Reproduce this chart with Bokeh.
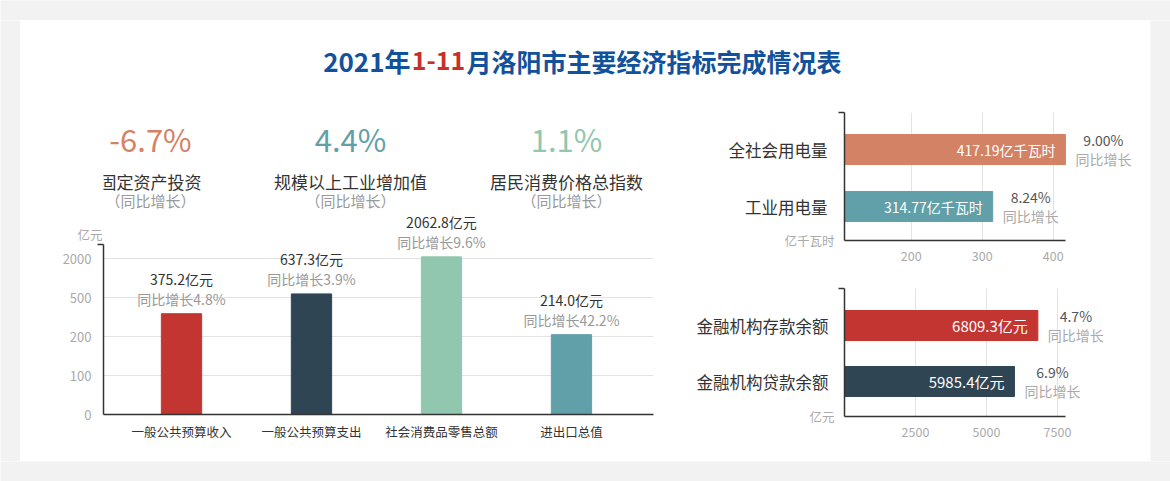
import numpy as np
from bokeh.plotting import figure
from bokeh.layouts import column, row
from bokeh.models import Range1d, FixedTicker, LinearAxis
from bokeh.core.properties import value
from bokeh.embed import file_html
from bokeh.resources import INLINE

FONT = "Noto Sans CJK SC"

# ---------------- data ----------------
title_parts = ["2021年", "1-11", "月洛阳市主要经济指标完成情况表"]

kpi_values = ["-6.7%", "4.4%", "1.1%"]
kpi_names = ["固定资产投资", "规模以上工业增加值", "居民消费价格总指数"]
kpi_sub = "（同比增长）"
kpi_colors = ["#d48265", "#61a0a8", "#91c7ae"]

bar_categories = ["一般公共预算收入", "一般公共预算支出", "社会消费品零售总额", "进出口总值"]
bar_values = [375.2, 637.3, 2062.8, 214.0]
bar_growth = [4.8, 3.9, 9.6, 42.2]
bar_colors = ["#c23531", "#2f4554", "#91c7ae", "#61a0a8"]
bar_unit = "亿元"
y_tick_values = [0, 100, 200, 500, 2000]

elec_categories = ["工业用电量", "全社会用电量"]          # bottom -> top
elec_values = [314.77, 417.19]
elec_growth = ["8.24%", "9.00%"]
elec_colors = ["#61a0a8", "#d48265"]
elec_unit = "亿千瓦时"
elec_ticks = [200, 300, 400]

fin_categories = ["金融机构贷款余额", "金融机构存款余额"]  # bottom -> top
fin_values = [5985.4, 6809.3]
fin_growth = ["6.9%", "4.7%"]
fin_colors = ["#2f4554", "#c23531"]
fin_unit = "亿元"
fin_ticks = [2500, 5000, 7500]

GRAY_BG = "#f2f2f2"
AXIS = "#333333"
GRID = "#e3e3e3"
LIGHT = "#aaaaaa"
DARK = "#333333"


def seg_scale(v, b=y_tick_values):
    """piece-wise linear value axis (equal spacing between the tick values)"""
    for i in range(len(b) - 1):
        if v <= b[i + 1]:
            return i + (v - b[i]) / (b[i + 1] - b[i])
    return len(b) - 2 + (v - b[-2]) / (b[-1] - b[-2])


def blank(w, h, xr, yr, bg="white", **kw):
    p = figure(width=w, height=h, toolbar_location=None, output_backend="svg",
               x_axis_location=None, y_axis_location=None,
               x_range=xr, y_range=yr, **kw)
    p.grid.visible = False
    p.outline_line_color = None
    p.background_fill_color = bg
    p.border_fill_color = bg
    return p


def txt(p, x, y, t, size, color, align="center", bold=False, **kw):
    p.text(x=x, y=y, text=t, text_align=align, text_baseline="middle",
           text_font=value(FONT), text_font_size=size, text_color=color,
           text_font_style="bold" if bold else "normal", **kw)


def style_axis(ax, size, color, standoff, line=True):
    ax.major_tick_line_color = None
    ax.major_tick_out = 0
    ax.major_tick_in = 0
    ax.axis_line_color = AXIS if line else None
    ax.axis_line_width = 1.5
    ax.major_label_standoff = standoff
    ax.major_label_text_font = FONT
    ax.major_label_text_font_size = size
    ax.major_label_text_color = color


def outer_label_axis(p, ticks, labels, size, color, standoff):
    """a second, line-less left axis used only for its labels"""
    ax = LinearAxis(ticker=FixedTicker(ticks=ticks),
                    major_label_overrides=dict(zip(ticks, labels)),
                    minor_tick_line_color=None, minor_tick_out=0, minor_tick_in=0)
    style_axis(ax, size, color, standoff, line=False)
    p.add_layout(ax, "left")


# ---------------- title ----------------
tfig = blank(1130, 85, Range1d(0, 1130), Range1d(85, 0), min_border=0)
txt(tfig, [390], [40], [title_parts[0]], "26px", "#12519b", align="right", bold=True)
txt(tfig, [418], [40], [title_parts[1]], "25px", "#c8312b", align="center", bold=True)
txt(tfig, [446], [40], [title_parts[2]], "25px", "#12519b", align="left", bold=True)

# ---------------- KPI (x in page pixels, frame aligned with the bar chart) ----------------
kfig = blank(650, 105, Range1d(103, 653), Range1d(105, 0),
             min_border_left=83, min_border_right=17, min_border_top=0, min_border_bottom=0)
kx = [150, 350, 566]
for i in range(3):
    txt(kfig, [kx[i]], [33], [kpi_values[i]], "31px", kpi_colors[i])
    txt(kfig, [kx[i]], [76], [kpi_names[i]], "17px", DARK)
    txt(kfig, [kx[i]], [95], [kpi_sub], "15px", "#999999")

# ---------------- left bar chart ----------------
xs = list(range(len(bar_categories)))
tops = [seg_scale(v) for v in bar_values]
ytop = 4.359
bfig = figure(width=650, height=251, toolbar_location=None, output_backend="svg",
              x_range=Range1d(-0.6, 3.631), y_range=Range1d(0, 5.231),
              min_border_left=83, min_border_right=17, min_border_top=0, min_border_bottom=47)
bfig.outline_line_color = None
bfig.vbar(x=xs, top=tops, width=0.31, color=bar_colors)
txt(bfig, xs, tops, [f"{v:.1f}{bar_unit}" for v in bar_values], "14px", DARK, y_offset=-35)
txt(bfig, xs, tops, [f"同比增长{g}%" for g in bar_growth], "14px", "#999999", y_offset=-15)

bfig.xgrid.visible = False
bfig.xaxis.ticker = FixedTicker(ticks=xs)
bfig.xaxis.major_label_overrides = {i: c for i, c in enumerate(bar_categories)}
bfig.xaxis.minor_tick_line_color = None
style_axis(bfig.xaxis[0], "12.5px", DARK, 7)

yt = list(range(len(y_tick_values)))
bfig.yaxis.ticker = FixedTicker(ticks=yt, minor_ticks=[ytop])
bfig.yaxis.major_label_overrides = {i: str(v) for i, v in enumerate(y_tick_values)}
bfig.yaxis.bounds = (0, ytop)
bfig.yaxis.minor_tick_in = 0
bfig.yaxis.minor_tick_out = 6
bfig.yaxis.minor_tick_line_color = AXIS
bfig.yaxis.minor_tick_line_width = 1.5
style_axis(bfig.yaxis[0], "13px", LIGHT, 6)
bfig.ygrid.ticker = FixedTicker(ticks=yt[1:])
bfig.ygrid.grid_line_color = GRID
outer_label_axis(bfig, [ytop + 10 / 39], [bar_unit], "12.5px", LIGHT, -43)


# ---------------- right horizontal bar charts ----------------
def hbar_chart(h, cats, vals, growth, colors, unit, ticks, xr, xbound, yr, bh,
               btop, bbottom, labels, label_size, cat_standoff):
    ys = list(range(len(cats)))
    p = figure(width=480, height=h, toolbar_location=None, output_backend="svg",
               x_range=xr, y_range=yr, min_border_left=174, min_border_right=5,
               min_border_top=btop, min_border_bottom=bbottom)
    p.outline_line_color = None
    p.hbar(y=ys, left=xr.start, right=vals, height=bh, color=colors)
    txt(p, vals, ys, labels, label_size, "white", align="right", x_offset=-10)
    txt(p, vals, ys, growth, "14px", "#555555", x_offset=38, y_offset=-10)
    txt(p, vals, ys, ["同比增长"] * len(ys), "14px", LIGHT, x_offset=38, y_offset=9)

    p.ygrid.visible = False
    p.xgrid.ticker = FixedTicker(ticks=ticks)
    p.xgrid.grid_line_color = GRID
    p.xaxis.ticker = FixedTicker(ticks=ticks)
    p.xaxis.bounds = xbound
    p.xaxis.minor_tick_line_color = None
    style_axis(p.xaxis[0], "12.5px", LIGHT, 10)

    # inner left axis: the axis line and the unit name at its start
    uy = yr.start + 0.002
    p.yaxis.ticker = FixedTicker(ticks=[uy], minor_ticks=[yr.end])
    p.yaxis.major_label_overrides = {uy: unit}
    p.yaxis.minor_tick_in = 0
    p.yaxis.minor_tick_out = 6
    p.yaxis.minor_tick_line_color = AXIS
    p.yaxis.minor_tick_line_width = 1.5
    style_axis(p.yaxis[0], "12.5px", LIGHT, 4)
    # outer left axis: category names
    outer_label_axis(p, ys, cats, "16.5px", DARK, cat_standoff)
    return p


h1 = hbar_chart(170, elec_categories, elec_values, elec_growth, elec_colors, elec_unit, elec_ticks,
                Range1d(106, 530), (106, 418), Range1d(-0.596, 1.649), 0.526, 7, 35,
                [f"{v:.2f}{elec_unit}" for v in elec_values], "14px", -46)
h2 = hbar_chart(186, fin_categories, fin_values, fin_growth, fin_colors, fin_unit, fin_ticks,
                Range1d(0, 10600), (0, 7800), Range1d(-0.625, 1.661), 0.536, 13, 45,
                [f"{v:.1f}{fin_unit}" for v in fin_values], "15px", -22)

# ---------------- page ----------------
inner = column(tfig, row(column(kfig, bfig), column(h1, h2)))
page = column(
    blank(1170, 20, Range1d(0, 1), Range1d(0, 1), GRAY_BG, min_border=0),
    row(blank(20, 441, Range1d(0, 1), Range1d(0, 1), GRAY_BG, min_border=0), inner,
        blank(20, 441, Range1d(0, 1), Range1d(0, 1), GRAY_BG, min_border=0)),
    blank(1170, 20, Range1d(0, 1), Range1d(0, 1), GRAY_BG, min_border=0),
)

open("out.html", "w").write(file_html(page, INLINE, title="2021年1-11月洛阳市主要经济指标完成情况表"))
